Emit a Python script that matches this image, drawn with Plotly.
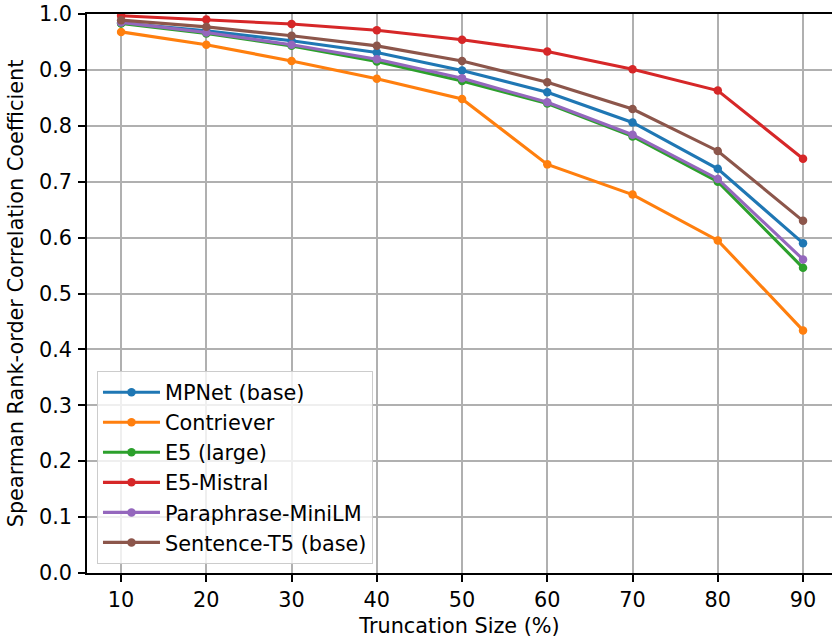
import plotly.graph_objects as go

truncation = [10, 20, 30, 40, 50, 60, 70, 80, 90]

mpnet = [0.984, 0.970, 0.952, 0.931, 0.899, 0.860, 0.806, 0.723, 0.590]
contriever = [0.968, 0.945, 0.916, 0.884, 0.848, 0.731, 0.677, 0.595, 0.434]
e5_large = [0.983, 0.965, 0.943, 0.915, 0.880, 0.840, 0.781, 0.700, 0.546]
e5_mistral = [0.997, 0.990, 0.982, 0.971, 0.954, 0.933, 0.901, 0.863, 0.741]
paraphrase = [0.985, 0.967, 0.945, 0.919, 0.885, 0.842, 0.784, 0.705, 0.561]
sentence_t5 = [0.989, 0.977, 0.961, 0.943, 0.916, 0.878, 0.830, 0.755, 0.630]

series_names = ["MPNet (base)", "Contriever", "E5 (large)", "E5-Mistral",
                "Paraphrase-MiniLM", "Sentence-T5 (base)"]
series_values = [mpnet, contriever, e5_large, e5_mistral, paraphrase, sentence_t5]
colors = ["#1f77b4", "#ff7f0e", "#2ca02c", "#d62728", "#9467bd", "#8c564b"]

y_ticks = [i / 10 for i in range(11)]

FONT = "DejaVu Sans"
FS = 20.8

fig = go.Figure()
for i, (name, vals, c) in enumerate(zip(series_names, series_values, colors)):
    fig.add_trace(go.Scatter(
        x=truncation, y=vals, name=name, mode="lines+markers",
        line=dict(color=c, width=3.1),
        marker=dict(color=c, size=8.5),
        legendgroup=f"g{i}",
    ))

fig.update_layout(
    width=832, height=641,
    margin=dict(l=87, r=0, t=14, b=68),
    paper_bgcolor="white", plot_bgcolor="white",
    font=dict(family=FONT, size=FS, color="black"),
    showlegend=True,
    legend=dict(
        x=0.0134, y=0.361, xanchor="left", yanchor="top",
        bgcolor="rgba(255,255,255,0.8)", bordercolor="#cccccc", borderwidth=1,
        font=dict(family=FONT, size=FS, color="black"),
        traceorder="grouped", tracegroupgap=0,
        itemwidth=57,
    ),
)

fig.update_xaxes(
    range=[6.0, 93.4], tickvals=truncation,
    ticks="outside", ticklen=7, tickwidth=1.7, tickcolor="black",
    showline=True, linecolor="black", linewidth=1.7, mirror=True,
    showgrid=True, gridcolor="#b0b0b0", gridwidth=1.7,
    zeroline=False, automargin=False,
    title=dict(text="Truncation Size (%)", font=dict(family=FONT, size=FS), standoff=8),
    tickfont=dict(family=FONT, size=FS),
)
fig.update_yaxes(
    range=[0, 1.0], tickvals=y_ticks, tickformat=".1f",
    ticks="outside", ticklen=7, tickwidth=1.7, tickcolor="black",
    showline=True, linecolor="black", linewidth=1.7, mirror=False,
    showgrid=True, gridcolor="#b0b0b0", gridwidth=1.7,
    zeroline=False, automargin=False, ticklabelstandoff=2,
    title=dict(text="Spearman Rank-order Correlation Coefficient",
               font=dict(family=FONT, size=FS), standoff=10),
    tickfont=dict(family=FONT, size=FS),
)

fig.write_html("out.html", config={"displayModeBar": False},
               post_script="document.body.style.margin='0';")
